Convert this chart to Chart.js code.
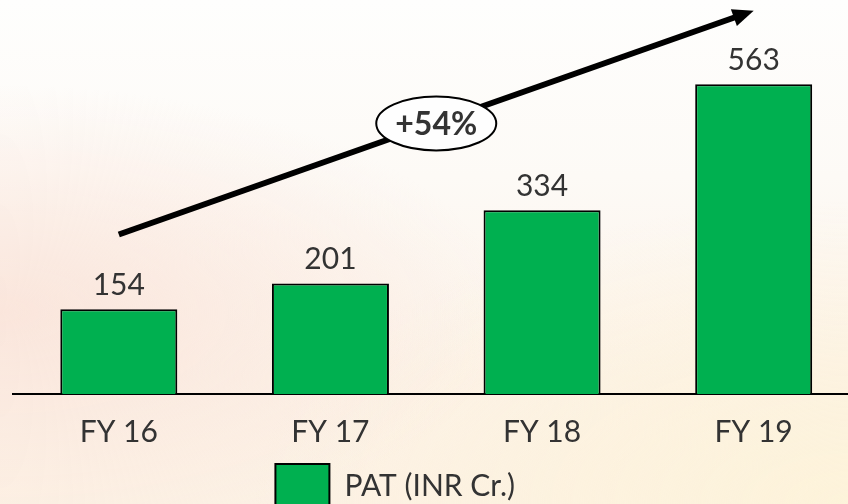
<!DOCTYPE html>
<html>
<head>
<meta charset="utf-8">
<script src="https://cdn.jsdelivr.net/npm/chart.js@4.4.1/dist/chart.umd.min.js"></script>
<style>
    html, body {
        margin: 0;
        padding: 0;
        width: 848px;
        height: 504px;
        overflow: hidden;
    }
    body {
        background:
            radial-gradient(ellipse 60% 45% at 0% 62%, rgba(250, 228, 218, 0.9) 0%, rgba(250, 228, 218, 0) 100%),
            radial-gradient(ellipse 70% 60% at 100% 100%, rgba(253, 243, 218, 1) 0%, rgba(253, 243, 218, 0) 100%),
            linear-gradient(to bottom, #fefefd 0%, #fdfaf6 35%, #fcf2e8 75%, #fcf1e4 100%);
    }
    #wrap {
        position: absolute;
        left: 0;
        top: 0;
    }
</style>
</head>
<body>
<div id="wrap"><canvas id="barChart" width="862" height="528"></canvas></div>
<script>
const categories = ['FY 16', 'FY 17', 'FY 18', 'FY 19'];
const patValues = [154, 201, 334, 563];
const seriesLabel = 'PAT (INR Cr.)';
const growthLabel = '+54%';
// trend arrow runs from FY 16 to FY 19, in value units
const arrowFrom = [0, 290];
const arrowTo = [3, 697];
const badgeAt = [1.5, 492];

const FONT = 'Lato, "Open Sans", sans-serif';
const TEXT = '#333333';

// legend sits a bit left of centre and tucked up under the axis labels
const legendNudge = {
    id: 'legendNudge',
    afterLayout(chart) {
        const lg = chart.legend;
        lg.left -= 41; lg.right -= 41;
        lg.top -= 8; lg.bottom -= 8;
    }
};

// value labels above bars + the growth arrow with its badge
const overlay = {
    id: 'overlay',
    afterDatasetsDraw(chart) {
        const ctx = chart.ctx;
        const xs = chart.scales.x, ys = chart.scales.y;
        ctx.save();
        ctx.font = '30px ' + FONT;
        ctx.fillStyle = TEXT;
        ctx.textAlign = 'center';
        ctx.textBaseline = 'alphabetic';
        chart.getDatasetMeta(0).data.forEach((bar, i) => {
            ctx.fillText(String(patValues[i]), bar.x, bar.y - 14);
        });

        // arrow
        const x1 = xs.getPixelForValue(arrowFrom[0]), y1 = ys.getPixelForValue(arrowFrom[1]);
        const x2 = xs.getPixelForValue(arrowTo[0]), y2 = ys.getPixelForValue(arrowTo[1]);
        const ang = Math.atan2(y2 - y1, x2 - x1);
        const headLen = 21, headHalf = 9;
        const bx = x2 - headLen * Math.cos(ang), by = y2 - headLen * Math.sin(ang);
        ctx.strokeStyle = '#000';
        ctx.lineWidth = 6;
        ctx.beginPath();
        ctx.moveTo(x1, y1);
        ctx.lineTo(bx + 2 * Math.cos(ang), by + 2 * Math.sin(ang));
        ctx.stroke();
        ctx.fillStyle = '#000';
        ctx.beginPath();
        ctx.moveTo(x2, y2);
        ctx.lineTo(bx + headHalf * Math.sin(ang), by - headHalf * Math.cos(ang));
        ctx.lineTo(bx - headHalf * Math.sin(ang), by + headHalf * Math.cos(ang));
        ctx.closePath();
        ctx.fill();

        // badge
        const cx = xs.getPixelForValue(badgeAt[0]), cy = ys.getPixelForValue(badgeAt[1]);
        ctx.beginPath();
        ctx.ellipse(cx, cy, 60, 27, 0, 0, Math.PI * 2);
        ctx.fillStyle = '#fefefe';
        ctx.fill();
        ctx.lineWidth = 2;
        ctx.strokeStyle = '#000';
        ctx.stroke();
        ctx.fillStyle = TEXT;
        ctx.font = 'bold 32px ' + FONT;
        ctx.textBaseline = 'middle';
        ctx.fillText(growthLabel, cx, cy + 1);
        ctx.restore();
    }
};

new Chart(document.getElementById('barChart').getContext('2d'), {
    type: 'bar',
    data: {
        labels: categories,
        datasets: [{
            label: seriesLabel,
            data: patValues,
            backgroundColor: '#00b050',
            borderColor: '#000000',
            borderWidth: 2,
            categoryPercentage: 1,
            barPercentage: 0.553
        }]
    },
    options: {
        responsive: false,
        animation: false,
        layout: {
            padding: { left: 13, right: 2.5, top: 9, bottom: 2 }
        },
        scales: {
            x: {
                grid: { display: false },
                border: { display: true, color: '#000', width: 2 },
                ticks: {
                    color: TEXT,
                    font: { family: FONT, size: 30 },
                    padding: 12
                }
            },
            y: {
                display: false,
                min: 0,
                max: 700
            }
        },
        plugins: {
            legend: {
                position: 'bottom',
                labels: {
                    boxWidth: 54,
                    boxHeight: 44,
                    color: TEXT,
                    font: { family: FONT, size: 30 },
                    padding: 10
                }
            },
            tooltip: { enabled: false }
        }
    },
    plugins: [legendNudge, overlay]
});
</script>
</body>
</html>
